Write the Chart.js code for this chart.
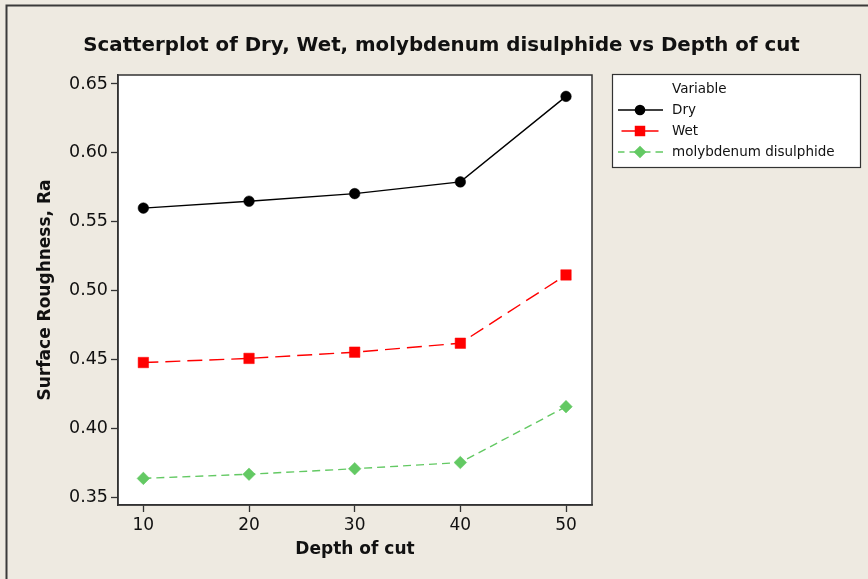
<!DOCTYPE html>
<html>
<head>
<meta charset="utf-8">
<script src="https://cdn.jsdelivr.net/npm/chart.js@4.4.1/dist/chart.umd.min.js"></script>
<style>
  html, body { margin: 0; padding: 0; background: #EEEAE1; }
  #wrap { width: 868px; height: 579px; position: relative; }
</style>
</head>
<body>
<div id="wrap"><canvas id="scatterChart" width="868" height="579"></canvas></div>
<script>
// values
const depthOfCut = [10, 20, 30, 40, 50];
const dryRa = [0.560, 0.565, 0.5705, 0.579, 0.641];
const wetRa = [0.448, 0.451, 0.4555, 0.462, 0.5115];
const mosRa = [0.364, 0.367, 0.371, 0.3755, 0.416];
const yTickValues = [0.35, 0.40, 0.45, 0.50, 0.55, 0.60, 0.65];
const xTickValues = [10, 20, 30, 40, 50];
const seriesNames = ['Dry', 'Wet', 'molybdenum disulphide'];

const BG = '#EEEAE1';
const INK = '#111111';
const FRAME = '#333333';
const FONT = "'DejaVu Sans', Verdana, sans-serif";

function toPoints(ys) {
  return depthOfCut.map((x, i) => ({ x: x, y: ys[i] }));
}

// background, outer frame, white plot area and title
const backdrop = {
  id: 'backdrop',
  beforeDraw(chart) {
    const { ctx, chartArea: a } = chart;
    ctx.save();
    ctx.fillStyle = BG;
    ctx.fillRect(0, 0, chart.width, chart.height);
    ctx.strokeStyle = '#3a3a3a';
    ctx.lineWidth = 2;
    ctx.beginPath();
    ctx.moveTo(6.5, chart.height);
    ctx.lineTo(6.5, 5.5);
    ctx.lineTo(chart.width, 5.5);
    ctx.stroke();
    ctx.fillStyle = '#ffffff';
    ctx.fillRect(a.left, a.top, a.right - a.left, a.bottom - a.top);
    ctx.fillStyle = INK;
    ctx.font = 'bold 19.8px ' + FONT;
    ctx.textAlign = 'center';
    ctx.textBaseline = 'middle';
    ctx.fillText('Scatterplot of Dry, Wet, molybdenum disulphide vs Depth of cut', 441.5, 46);
    ctx.restore();
  }
};

// box round the plot and the legend panel
const frameAndLegend = {
  id: 'frameAndLegend',
  afterDraw(chart) {
    const { ctx, chartArea: a } = chart;
    ctx.save();
    ctx.strokeStyle = FRAME;
    ctx.lineWidth = 1.5;
    ctx.strokeRect(a.left, a.top, a.right - a.left, a.bottom - a.top);

    // legend
    const lx = 612, ly = 74, lw = 248, lh = 93;
    ctx.fillStyle = '#ffffff';
    ctx.fillRect(lx, ly, lw, lh);
    ctx.lineWidth = 1.2;
    ctx.strokeStyle = FRAME;
    ctx.strokeRect(lx + 0.5, ly + 0.5, lw, lh);

    ctx.fillStyle = INK;
    ctx.font = '13.5px ' + FONT;
    ctx.textAlign = 'left';
    ctx.textBaseline = 'middle';
    ctx.fillText('Variable', 672, 89);

    const x0 = 618, x1 = 663, cx = 640;
    chart.data.datasets.forEach((ds, i) => {
      const y = 110 + i * 21;
      ctx.save();
      ctx.strokeStyle = ds.borderColor;
      ctx.lineWidth = ds.borderWidth;
      const dash = ds.borderDash || [];
      ctx.setLineDash(dash);
      // put a gap under the marker so the sample looks like the original
      if (dash.length) ctx.lineDashOffset = dash[0] + dash[1] / 2 - (cx - x0);
      ctx.beginPath();
      ctx.moveTo(x0, y);
      ctx.lineTo(x1, y);
      ctx.stroke();
      ctx.setLineDash([]);
      ctx.fillStyle = ds.pointBackgroundColor;
      const r = ds.pointRadius;
      ctx.beginPath();
      if (ds.pointStyle === 'circle') {
        ctx.arc(cx, y, r, 0, Math.PI * 2);
      } else if (ds.pointStyle === 'rect') {
        const s = r * Math.SQRT1_2;
        ctx.rect(cx - s, y - s, 2 * s, 2 * s);
      } else {
        ctx.moveTo(cx, y - r);
        ctx.lineTo(cx + r, y);
        ctx.lineTo(cx, y + r);
        ctx.lineTo(cx - r, y);
        ctx.closePath();
      }
      ctx.fill();
      ctx.restore();
      ctx.fillStyle = INK;
      ctx.fillText(ds.label, 672, y);
    });
    ctx.restore();
  }
};

const ctx = document.getElementById('scatterChart').getContext('2d');
new Chart(ctx, {
  type: 'line',
  data: {
    datasets: [
      {
        label: seriesNames[0],
        data: toPoints(dryRa),
        borderColor: '#000000',
        backgroundColor: '#000000',
        pointBackgroundColor: '#000000',
        pointBorderColor: '#000000',
        borderWidth: 1.4,
        pointStyle: 'circle',
        pointRadius: 5.3,
        pointBorderWidth: 0.5,
      },
      {
        label: seriesNames[1],
        data: toPoints(wetRa),
        borderColor: '#ff0000',
        backgroundColor: '#ff0000',
        pointBackgroundColor: '#ff0000',
        pointBorderColor: '#ff0000',
        borderWidth: 1.4,
        borderDash: [15, 7],
        pointStyle: 'rect',
        pointRadius: 7.4,
        pointBorderWidth: 0.5,
      },
      {
        label: seriesNames[2],
        data: toPoints(mosRa),
        borderColor: '#63c963',
        backgroundColor: '#63c963',
        pointBackgroundColor: '#63c963',
        pointBorderColor: '#63c963',
        borderWidth: 1.4,
        borderDash: [8, 5],
        pointStyle: 'rectRot',
        pointRadius: 6.3,
        pointBorderWidth: 0.5,
      },
    ],
  },
  options: {
    responsive: false,
    animation: false,
    devicePixelRatio: 1,
    layout: { padding: { left: 31, top: 75, right: 276, bottom: 15 } },
    plugins: {
      legend: { display: false },
      title: { display: false },
      tooltip: { enabled: false },
    },
    scales: {
      x: {
        type: 'linear',
        min: 7.6,
        max: 52.46,
        afterBuildTicks: (scale) => { scale.ticks = xTickValues.map(v => ({ value: v })); },
        afterFit: (scale) => { scale.height = 59; },
        ticks: { font: { family: FONT, size: 17 }, color: INK, padding: 3, maxRotation: 0 },
        grid: { drawOnChartArea: false, drawTicks: true, tickLength: 7, tickColor: FRAME, tickWidth: 1.3 },
        border: { display: true, color: FRAME, width: 1.5 },
        title: {
          display: true,
          text: 'Depth of cut',
          font: { family: FONT, size: 17, weight: 'bold' },
          color: INK,
          padding: { top: 0, bottom: 4 },
        },
      },
      y: {
        type: 'linear',
        min: 0.3447,
        max: 0.6565,
        afterBuildTicks: (scale) => { scale.ticks = yTickValues.map(v => ({ value: v })); },
        afterFit: (scale) => { scale.width = 87; },
        ticks: {
          font: { family: FONT, size: 17.5 },
          color: INK,
          padding: 3,
          callback: (v) => Number(v).toFixed(2),
        },
        grid: { drawOnChartArea: false, drawTicks: true, tickLength: 7, tickColor: FRAME, tickWidth: 1.3 },
        border: { display: true, color: FRAME, width: 1.5 },
        title: {
          display: true,
          text: 'Surface Roughness, Ra',
          font: { family: FONT, size: 17, weight: 'bold' },
          color: INK,
          padding: { top: 4, bottom: 0 },
        },
      },
    },
  },
  plugins: [backdrop, frameAndLegend],
});
</script>
</body>
</html>
